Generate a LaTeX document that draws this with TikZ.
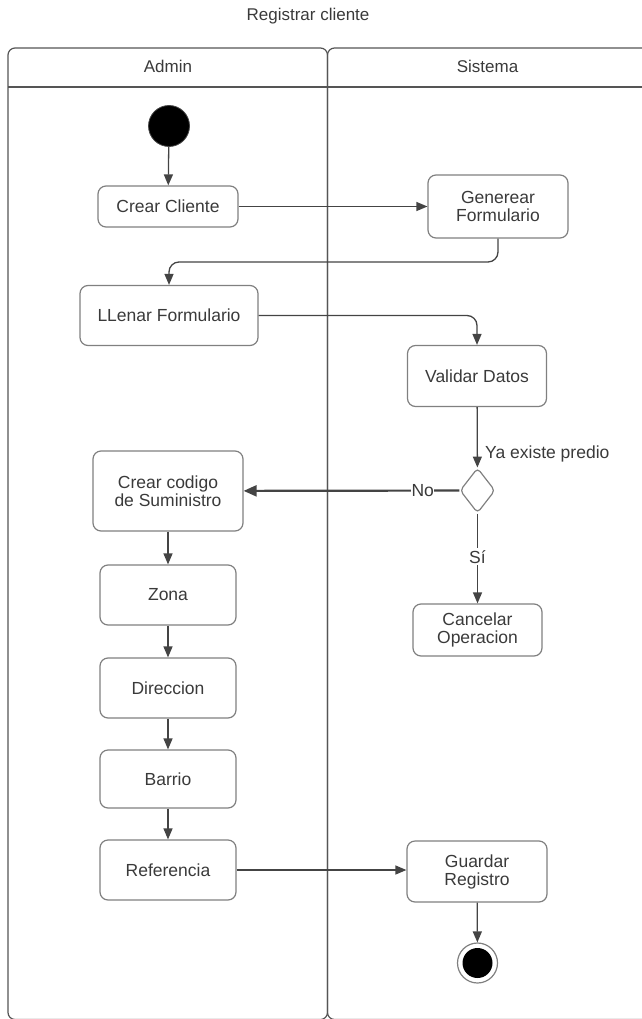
\documentclass[tikz,border=0pt]{standalone}
\usepackage{fontspec}
\setmainfont{Liberation Sans}
\usetikzlibrary{arrows.meta,shapes.geometric}
\definecolor{txt}{HTML}{3A3A3A}
\definecolor{bord}{HTML}{808080}
\definecolor{ln}{HTML}{444444}
\definecolor{lanec}{HTML}{555555}
\begin{document}
\begin{tikzpicture}[x=1pt,y=-1pt,
  lane/.style={draw=lanec, line width=1.2pt},
  lanetitle/.style={text=txt, font=\fontsize{17}{18}\selectfont, inner sep=0pt},
  act/.style={draw=bord, line width=1.2pt, rounded corners=8pt, text=txt,
    font=\fontsize{17.5}{18}\selectfont, align=center, inner sep=0pt},
  conn/.style={draw=ln, line width=1.3pt, -{Triangle[length=11pt,width=9pt]}},
  thickconn/.style={draw=ln, line width=2.2pt, -{Triangle[length=13pt,width=11pt]}},
  lbl/.style={text=txt, font=\fontsize{17.5}{18}\selectfont, fill=white, inner sep=1pt},
  startnode/.style={circle, fill=black, draw=ln, line width=0.8pt, minimum size=41pt, inner sep=0pt},
  endouter/.style={circle, draw=bord, line width=1.2pt, fill=white, minimum size=40pt, inner sep=0pt},
  endinner/.style={circle, fill=black, minimum size=30pt, inner sep=0pt},
  decision/.style={diamond, draw=bord, line width=1.2pt, rounded corners=4pt, minimum width=35pt, minimum height=45pt, inner sep=0pt}
]
\useasboundingbox (0,0) rectangle (641,1019);

% title
\node[lanetitle] (title) at (308,16) {Registrar cliente};

% swimlanes
\draw[lane, rounded corners=7pt] (8,48) rectangle (327.5,1019.5);
\draw[lane, rounded corners=7pt] (327.5,48) rectangle (670,1019.5);
\draw[lane] (8,87) -- (670,87);
\node[lanetitle] (admin) at (168,66) {Admin};
\node[lanetitle] (sistema) at (487.5,66) {Sistema};

% nodes
\node[startnode] (start) at (169,126) {};
\node[act, minimum width=140pt, minimum height=41pt] (cc) at (168,206.5) {Crear Cliente};
\node[act, minimum width=140pt, minimum height=63pt] (gf) at (498,206.5) {Generear\\Formulario};
\node[act, minimum width=178pt, minimum height=60pt] (lf) at (169,315.5) {LLenar Formulario};
\node[act, minimum width=139pt, minimum height=61pt] (vd) at (477,376) {Validar Datos};
\node[decision] (dec) at (477.5,490.5) {};
\node[act, minimum width=150pt, minimum height=80pt] (cs) at (168,491) {Crear codigo\\de Suministro};
\node[act, minimum width=129pt, minimum height=52pt] (co) at (477.5,630) {Cancelar\\Operacion};
\node[act, minimum width=136pt, minimum height=60pt] (zo) at (168,595) {Zona};
\node[act, minimum width=136pt, minimum height=60pt] (di) at (168,688) {Direccion};
\node[act, minimum width=136pt, minimum height=58pt] (ba) at (168,779) {Barrio};
\node[act, minimum width=136pt, minimum height=60pt] (re) at (168,870) {Referencia};
\node[act, minimum width=140pt, minimum height=61pt] (gr) at (477,871.5) {Guardar\\Registro};
\node[endouter] (endo) at (477.5,963) {};
\node[endinner] (endi) at (endo.center) {};

% connectors
\draw[conn] (start) -- (cc);
\draw[conn] (cc) -- (gf);
\draw[conn, rounded corners=10pt] (gf.south) |- (320,262) -| (lf.north);
\draw[conn, rounded corners=10pt] (lf.east) -| (vd.north);
\draw[conn] (vd) -- (dec);
\node[lbl, anchor=west, fill=none, inner sep=0pt] (ya) at (485,454) {Ya existe predio};
\draw[thickconn] (dec) -- node[lbl, pos=0.17, inner sep=0.5pt] (no) {No} (cs);
\draw[conn] (dec) -- node[lbl, pos=0.48, inner sep=2pt] (si) {Sí} (co);
\draw[conn] (cs) -- (zo);
\draw[conn] (zo) -- (di);
\draw[conn] (di) -- (ba);
\draw[conn] (ba) -- (re);
\draw[conn] (re.east) -- (re.east -| gr.west);
\draw[conn] (gr) -- (endo);
\end{tikzpicture}
\end{document}
